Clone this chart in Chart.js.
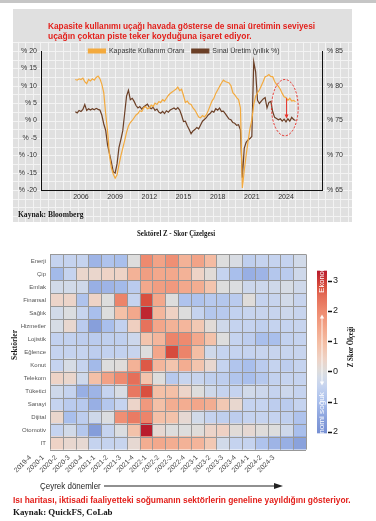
<!DOCTYPE html>
<html lang="tr"><head><meta charset="utf-8">
<title>Kapasite kullanımı ve sınai üretim</title>
<script src="https://cdn.jsdelivr.net/npm/chart.js"></script>
<style>
html,body{margin:0;padding:0;background:#fff}
body{width:376px;height:521px;position:relative;overflow:hidden}
#topband{position:absolute;left:0;top:0;width:376px;height:3px;background:#c6c6c6}
canvas{position:absolute;display:block}
#c1{left:13px;top:9px}
#c2{left:0;top:222px}
.t{position:absolute;white-space:nowrap;line-height:1;left:0;top:0}
.sans{font-family:var(--sans)}
.serif{font-family:"Liberation Serif","DejaVu Serif",serif;font-weight:bold;color:#151515}
.red{color:#e3201b;font-weight:bold}
#arrowSvg{position:absolute;left:0;top:0}
</style></head>
<body>
<div id="topband"></div>
<canvas id="c1" width="339" height="213"></canvas>
<canvas id="c2" width="376" height="260"></canvas>
<svg id="arrowSvg" width="376" height="521">
  <line x1="104" y1="486" x2="276" y2="486" stroke="#222" stroke-width="1.2"/>
  <polygon points="274,483 283,486 274,489" fill="#222"/>
</svg>
<div class="t sans red" data-x="48" data-cy="26" data-w="267" style="font-size:9px">Kapasite kullanımı uçağı havada gösterse de sınai üretimin seviyesi</div>
<div class="t sans red" data-x="48" data-cy="36" data-w="204" style="font-size:9px">uçağın çoktan piste teker koyduğuna işaret ediyor.</div>
<div class="t serif" data-x="18" data-cy="215" data-w="66" style="font-size:8px">Kaynak: Bloomberg</div>
<div class="t serif" data-x="137" data-cy="233.5" data-w="78" style="font-size:7.5px">Sektörel Z - Skor Çizelgesi</div>
<div class="t serif" data-rot="1" data-cx="15" data-cy="345" data-w="30" style="font-size:7.5px">Sektörler</div>
<div class="t serif" data-rot="1" data-cx="351" data-cy="347" data-w="40" style="font-size:7.5px">Z Skor Ölçeği</div>
<div class="t sans" data-rot="1" data-cx="321.5" data-cy="267.5" data-w="49" style="font-size:6.5px;color:#fff">Ekonomi sıcak</div>
<div class="t sans" data-rot="1" data-cx="321.5" data-cy="419.5" data-w="55" style="font-size:6.5px;color:#fff">Ekonomi soğuk</div>
<div class="t sans" data-x="40" data-cy="486" data-w="61" style="font-size:8.5px;color:#222">Çeyrek dönemler</div>
<div class="t sans red" data-x="13" data-cy="500" data-w="338" style="font-size:9px">Isı haritası, iktisadi faaliyetteki soğumanın sektörlerin geneline yayıldığını gösteriyor.</div>
<div class="t serif" data-x="13" data-cy="513" data-w="100" style="font-size:8px">Kaynak: QuickFS, CoLab</div>
<script>
// ---------------- DATA: line chart ----------------
const lineStartYear = 2005.5;
const lineStep = 1 / 6;
const capacityUse = [
  80.9,80.8,81.0,80.9,81.1,80.6,80.3,80.9,80.7,81.0,
  80.8,81.2,81.4,81.0,80.2,79.0,76.0,73.5,70.0,68.2,
  67.3,66.7,67.2,68.6,69.9,71.0,72.1,73.3,74.2,74.7,
  75.0,75.4,75.8,76.0,76.4,76.3,76.8,77.0,76.7,76.8,
  77.2,77.0,77.5,77.3,77.7,77.6,78.0,77.8,78.2,78.6,
  78.9,79.1,79.3,79.5,79.8,79.3,79.5,78.6,77.6,77.8,
  77.4,77.3,76.8,76.5,76.0,75.5,75.4,75.7,75.5,75.8,
  76.4,77.1,77.8,78.2,78.9,79.4,79.9,80.4,80.8,80.6,
  80.5,80.4,80.0,79.0,78.7,78.3,78.0,76.8,65.3,67.8,
  70.0,72.0,73.8,75.1,77.3,78.5,79.0,79.4,80.0,80.6,
  81.3,81.4,81.6,81.3,81.3,80.6,80.2,79.9,79.5,78.9,
  78.4,78.3,77.9,78.2,77.8,77.9,77.7
];
const industrialProd = [
  2.5,2.2,2.9,2.6,3.2,4.6,2.9,3.4,3.0,3.4,
  3.1,3.5,3.2,3.0,1.5,-1.0,-2.8,-7.0,-9.5,-12.0,
  -14.8,-15.1,-12.5,-7.8,-5.5,-3.0,2.0,7.0,8.7,6.0,
  6.4,5.5,4.3,3.6,4.0,3.3,3.9,4.3,4.7,3.8,
  3.4,3.8,2.9,3.3,2.4,2.1,2.6,2.0,2.8,2.4,
  3.0,3.3,3.6,3.2,3.7,3.0,1.5,-0.3,-0.2,-1.5,
  -2.6,-3.8,-3.0,-2.6,-2.0,-2.4,-1.3,-0.2,0.3,0.8,
  1.6,2.0,2.7,2.4,3.4,3.0,3.6,2.6,2.7,2.0,
  1.2,0.4,0.2,-0.6,-0.8,-1.4,-1.2,-2.7,-16.5,-8.0,
  -6.3,-5.6,-5.2,-4.6,16.9,14.0,5.8,4.9,5.6,6.2,
  6.6,3.6,5.2,5.5,2.5,0.9,0.6,0.2,0.5,-0.2,
  0.4,-0.4,0.5,-0.2,0.9,0.3,0.0
];
const yearTicks = [2006, 2009, 2012, 2015, 2018, 2021, 2024];
const indTicks = [-20, -15, -10, -5, 0, 5, 10, 15, 20];
const capTicks = [65, 70, 75, 80, 85];
// annotation (data units)
const ellipseCenterYear = 2023.9, ellipseHalfYears = 1.17;
const ellipseCenterPct = 3.7, ellipseHalfPct = 8.1;
const arrowYear = 2024.05, arrowFromCap = 78.2, arrowToInd = 0.6;

// ---------------- DATA: heatmap ----------------
const quarters = ['2019-4','2020-1','2020-2','2020-3','2020-4','2021-1','2021-2','2021-3','2021-4','2022-1',
                  '2022-2','2022-3','2022-4','2023-1','2023-2','2023-3','2023-4','2024-1','2024-2','2024-3'];
const sectors = ['Enerji','Çip','Emlak','Finansal','Sağlık','Hizmetler','Lojistik','Eğlence','Konut','Telekom',
                 'Tüketici','Sanayi','Dijital','Otomotiv','IT'];
const zEnerji    = [-0.5,-0.5,-0.5,-1.2,-0.9,-1.0,0.0,2.0,1.5,1.9,1.2,1.5,1.0,0.0,-0.1,-0.6,-0.5,-0.5,-0.5,-0.25];
const zCip       = [-1.1,-0.5,0.3,0.3,0.4,0.4,1.2,1.6,1.4,1.4,1.2,0.4,0.1,-0.5,-1.0,-1.3,-1.2,-0.8,-0.7,-0.3];
const zEmlak     = [-0.25,-0.25,-0.3,-1.3,-1.2,-1.1,-0.7,1.4,1.6,1.7,1.4,1.3,0.8,0.0,-0.05,-0.35,-0.35,-0.3,-0.15,-0.3];
const zFinansal  = [0.35,0.35,-0.9,0.4,0.0,2.1,-0.5,2.8,1.4,0.0,-0.9,-0.9,-0.75,-0.8,-0.7,0.05,-0.5,-0.45,-0.25,-0.45];
const zSaglik    = [-0.25,-0.05,-0.45,-1.0,0.0,0.9,1.4,3.2,1.1,0.45,0.0,-0.5,-0.8,-0.75,-0.55,-0.45,-0.45,-0.45,-0.35,-0.45];
const zHizmetler = [-0.15,0.25,-0.7,-1.6,-1.0,-0.55,0.5,2.4,1.45,1.2,1.1,0.7,0.1,-0.3,-0.5,-0.5,-0.6,-0.5,-0.5,-0.45];
const zLojistik  = [-0.55,-0.55,-0.65,-0.7,-0.6,-0.6,-0.35,0.8,1.1,2.1,2.0,1.4,0.85,0.0,-0.5,-0.65,-1.0,-1.0,-0.55,-0.5];
const zEglence   = [-0.5,-0.5,-0.5,-0.65,-0.55,-0.55,-0.45,0.0,1.45,2.85,2.1,0.95,-0.3,-0.5,-0.5,-0.5,-0.45,-0.45,-0.45,-0.45];
const zKonut     = [-0.5,-0.15,-0.5,-1.1,0.0,0.05,1.2,2.7,1.1,0.8,1.3,0.8,0.25,-0.5,-0.85,-1.0,-0.7,-0.5,-0.65,-0.5];
const zTelekom   = [0.4,0.3,-0.3,0.9,1.55,2.0,2.45,0.8,0.0,-0.75,-0.45,-0.45,-0.6,-0.65,-0.85,-1.0,-0.8,-0.55,-0.5,-0.5];
const zTuketici  = [-0.3,-0.5,-1.3,-1.2,-0.5,-0.1,2.3,2.8,0.9,0.9,0.35,0.0,-0.3,-0.5,-0.5,-0.25,-0.35,-0.5,-0.35,-0.5];
const zSanayi    = [-0.5,-0.7,-0.75,-1.3,-0.8,-0.5,0.35,1.7,0.9,1.3,1.3,1.45,1.3,0.7,0.25,-0.5,-0.5,-0.65,-0.7,-0.5];
const zDijital   = [0.3,-1.0,-0.65,-0.3,-0.05,1.9,2.25,2.1,0.9,0.85,0.2,-0.25,-0.5,-0.6,-0.65,-0.5,-0.5,-0.5,-0.6,-0.9];
const zOtomotiv  = [-0.5,-0.25,-0.8,-1.65,-0.5,-0.05,0.85,3.3,0.2,0.0,0.0,0.05,0.35,0.45,0.1,0.2,0.05,0.0,-0.3,-1.0];
const zIT        = [0.4,0.25,0.2,-0.5,-0.5,-0.45,0.2,1.3,1.4,1.3,1.2,1.15,0.7,-0.25,-0.5,-0.5,-0.9,-1.2,-1.3,-1.55];
const zRows = [zEnerji,zCip,zEmlak,zFinansal,zSaglik,zHizmetler,zLojistik,zEglence,zKonut,zTelekom,zTuketici,zSanayi,zDijital,zOtomotiv,zIT];
const zTicks = [3, 2, 1, 0, -1, -2];
const zMin = -2.05, zMax = 3.33;
const barArrowTop = 1.88, barArrowBottom = -0.47;

// ---------------- styling helpers ----------------
const cmapStops = [
  [-2.0,[120,145,212]],[-1.6,[135,159,219]],[-1.0,[169,191,236]],[-0.5,[197,211,239]],[-0.2,[211,219,232]],
  [0,[221,221,221]],[0.4,[238,211,198]],[0.9,[244,192,167]],[1.4,[243,168,140]],[2.0,[238,138,111]],
  [2.5,[228,108,87]],[2.8,[217,80,63]],[3.3,[185,28,44]]
];
function zColor(v){
  const s = cmapStops;
  let c;
  if (v <= s[0][0]) c = s[0][1];
  else if (v >= s[s.length-1][0]) c = s[s.length-1][1];
  else {
    for (let i = 1; i < s.length; i++) {
      if (v <= s[i][0]) {
        const t = (v - s[i-1][0]) / (s[i][0] - s[i-1][0]);
        c = s[i-1][1].map((a, k) => a + (s[i][1][k] - a) * t);
        break;
      }
    }
  }
  return 'rgb(' + c.map(Math.round).join(',') + ')';
}
function hasFont(name){
  const c = document.createElement('canvas').getContext('2d');
  const s = 'abcdefghijklmnopqrstuvwxyzABCDEF0123456789';
  c.font = '40px monospace'; const a = c.measureText(s).width;
  c.font = '40px "' + name + '", monospace'; const b = c.measureText(s).width;
  return Math.abs(a - b) > 1;
}
const NARROW = hasFont('Liberation Sans Narrow');
const SANS = NARROW ? '"Liberation Sans Narrow", "Liberation Sans", Arial, sans-serif' : '"Liberation Sans", Arial, sans-serif';
const K = NARROW ? 1.2 : 1;
document.documentElement.style.setProperty('--sans', SANS);

// ---------------- top chart ----------------
const PLOT_TOP = 42; // canvas px where the % 20 / % 85 line sits
const bgGrid = {
  id: 'bgGrid',
  beforeDraw(chart){
    const {ctx, width, height, chartArea: a} = chart;
    const yS = chart.scales.yInd;
    ctx.save();
    ctx.fillStyle = '#e0e0e0';
    ctx.fillRect(0, 0, width, height);
    const step = yS.getPixelForValue(0) - yS.getPixelForValue(2.5);
    const gTop = a.top - step - 0.5;
    ctx.strokeStyle = '#f3f3f3';
    ctx.lineWidth = 1;
    ctx.beginPath();
    for (let v = -40; v <= 40; v += 2.5) {
      const y = Math.round(yS.getPixelForValue(v)) + 0.5;
      if (y < gTop || y > height) continue;
      ctx.moveTo(0, y); ctx.lineTo(width, y);
    }
    const x0 = a.left - 1;
    for (let x = x0 - 7.5 * Math.floor(x0 / 7.5); x < width; x += 7.5) {
      const px = Math.round(x) + 0.5;
      ctx.moveTo(px, gTop); ctx.lineTo(px, height);
    }
    ctx.stroke();
    ctx.restore();
  }
};
const LEG_PAD = 7, LEG_FS = 7 * K;
const legendShift = {
  id: 'legendShift',
  afterLayout(chart){
    const lg = chart.legend;
    if (!lg) return;
    const d = chart.chartArea.top - (lg.top + LEG_PAD + LEG_FS / 2);
    lg.top += d; lg.bottom += d;
    lg.left += 1.5; lg.right += 1.5;
  }
};
const annot = {
  id: 'annot',
  afterDatasetsDraw(chart){
    const {ctx, scales: {x, yInd, yCap}} = chart;
    const cx = x.getPixelForValue(ellipseCenterYear);
    const cy = yInd.getPixelForValue(ellipseCenterPct);
    const rx = x.getPixelForValue(ellipseCenterYear + ellipseHalfYears) - cx;
    const ry = cy - yInd.getPixelForValue(ellipseCenterPct + ellipseHalfPct);
    ctx.save();
    ctx.strokeStyle = '#e8322b'; ctx.fillStyle = '#e8322b';
    ctx.lineWidth = 1;
    ctx.setLineDash([2.2, 1.6]);
    ctx.beginPath(); ctx.ellipse(cx, cy, rx, ry, 0, 0, Math.PI * 2); ctx.stroke();
    ctx.setLineDash([]);
    const ax = x.getPixelForValue(arrowYear);
    const ay1 = yCap.getPixelForValue(arrowFromCap);
    const ay2 = yInd.getPixelForValue(arrowToInd);
    ctx.beginPath(); ctx.moveTo(ax, ay1); ctx.lineTo(ax, ay2 - 3); ctx.stroke();
    ctx.beginPath(); ctx.moveTo(ax - 2, ay2 - 4); ctx.lineTo(ax + 2, ay2 - 4); ctx.lineTo(ax, ay2); ctx.closePath(); ctx.fill();
    ctx.restore();
  }
};
const tickFont = {family: SANS, size: 7 * K};
const lineChart = new Chart(document.getElementById('c1'), {
  type: 'line',
  data: {
    datasets: [
      {
        label: 'Kapasite Kullanım Oranı',
        data: capacityUse.map((v, i) => ({x: lineStartYear + i * lineStep, y: v})),
        yAxisID: 'yCap', borderColor: '#f3aa3e', backgroundColor: '#f3aa3e',
        borderWidth: 1.2, pointRadius: 0, tension: 0
      },
      {
        label: 'Sınai Üretim (yıllık %)',
        data: industrialProd.map((v, i) => ({x: lineStartYear + i * lineStep, y: v})),
        yAxisID: 'yInd', borderColor: '#6b3f26', backgroundColor: '#6b3f26',
        borderWidth: 1.2, pointRadius: 0, tension: 0
      }
    ]
  },
  options: {
    responsive: false, animation: false, events: [], devicePixelRatio: 1,
    layout: {padding: {top: 21, left: 0, right: 0, bottom: 0}},
    plugins: {
      legend: {
        position: 'top', align: 'center',
        labels: {boxWidth: 17, boxHeight: 4, padding: LEG_PAD, color: '#333', font: {family: SANS, size: LEG_FS}}
      },
      tooltip: {enabled: false}
    },
    scales: {
      x: {
        type: 'linear', min: 2002.49, max: 2027.16,
        grid: {display: false, drawTicks: false},
        border: {display: true, color: '#111', width: 1},
        afterBuildTicks: s => { s.ticks = yearTicks.map(v => ({value: v})); },
        afterFit: s => { s.height = 32; },
        ticks: {padding: 3, color: '#333', font: tickFont, autoSkip: false, maxRotation: 0, callback: v => String(v)}
      },
      yInd: {
        type: 'linear', position: 'left', min: -20, max: 20,
        grid: {display: false, drawTicks: false},
        border: {display: true, color: '#111', width: 1},
        afterBuildTicks: s => { s.ticks = indTicks.map(v => ({value: v})); },
        afterFit: s => { s.width = 28; },
        ticks: {padding: 4, color: '#333', font: tickFont, callback: v => '% ' + v}
      },
      yCap: {
        type: 'linear', position: 'right', min: 65, max: 85,
        grid: {display: false, drawTicks: false},
        border: {display: true, color: '#111', width: 1},
        afterBuildTicks: s => { s.ticks = capTicks.map(v => ({value: v})); },
        afterFit: s => { s.width = 30; },
        ticks: {padding: 5, color: '#333', font: tickFont, callback: v => '% ' + v}
      }
    }
  },
  plugins: [bgGrid, legendShift, annot]
});
// pin the plot top so that the left/right axis ranges sit where the reference puts them
const padFix = PLOT_TOP - lineChart.chartArea.top;
if (Math.abs(padFix) > 0.01) {
  lineChart.options.layout.padding.top += padFix;
  lineChart.update();
}

// ---------------- heatmap ----------------
const heatDecor = {
  id: 'heatDecor',
  afterDatasetsDraw(chart){
    const {ctx, chartArea: a, scales: {x, y}} = chart;
    ctx.save();
    ctx.strokeStyle = '#989898'; ctx.lineWidth = 1;
    ctx.beginPath();
    for (let q = 0; q <= quarters.length; q++) {
      const px = Math.round(x.getPixelForValue(q)) + 0.5;
      ctx.moveTo(px, a.top); ctx.lineTo(px, a.bottom);
    }
    for (let s = 0; s <= sectors.length; s++) {
      const py = Math.round(y.getPixelForValue(s - 0.5)) + 0.5;
      ctx.moveTo(a.left, py); ctx.lineTo(a.right, py);
    }
    ctx.stroke();
    ctx.restore();
  },
  afterDraw(chart){
    const {ctx, chartArea: a} = chart;
    const zs = chart.scales.yz;
    const top = zs.getPixelForValue(zs.max), bottom = zs.getPixelForValue(zs.min);
    const x0 = a.right + 11, w = 10;
    const g = ctx.createLinearGradient(0, top, 0, bottom);
    g.addColorStop(0, zColor(zs.max));
    g.addColorStop(1, zColor(zs.min));
    cmapStops.forEach(([v]) => {
      const p = (zs.getPixelForValue(v) - top) / (bottom - top);
      if (p > 0 && p < 1) g.addColorStop(p, zColor(v));
    });
    ctx.save();
    ctx.fillStyle = g;
    ctx.fillRect(x0, top, w, bottom - top);
    const cx = x0 + w / 2;
    const yA = zs.getPixelForValue(barArrowTop), yB = zs.getPixelForValue(barArrowBottom);
    ctx.strokeStyle = 'rgba(255,255,255,0.95)'; ctx.fillStyle = 'rgba(255,255,255,0.95)';
    ctx.lineWidth = 0.9;
    ctx.beginPath(); ctx.moveTo(cx, yA + 3); ctx.lineTo(cx, yB - 3); ctx.stroke();
    ctx.beginPath(); ctx.moveTo(cx, yA); ctx.lineTo(cx - 2.2, yA + 4); ctx.lineTo(cx + 2.2, yA + 4); ctx.closePath(); ctx.fill();
    ctx.beginPath(); ctx.moveTo(cx, yB); ctx.lineTo(cx - 2.2, yB - 4); ctx.lineTo(cx + 2.2, yB - 4); ctx.closePath(); ctx.fill();
    ctx.strokeStyle = '#111'; ctx.lineWidth = 1.6;
    ctx.beginPath();
    zs.ticks.forEach(t => {
      const py = Math.round(zs.getPixelForValue(t.value)) + 0.5;
      ctx.moveTo(a.right + 22, py); ctx.lineTo(a.right + 26, py);
    });
    ctx.stroke();
    ctx.restore();
  }
};
new Chart(document.getElementById('c2'), {
  type: 'bar',
  data: {
    labels: sectors,
    datasets: quarters.map((q, qi) => ({
      label: q,
      data: sectors.map(() => [qi, qi + 1]),
      backgroundColor: sectors.map((s, si) => zColor(zRows[si][qi])),
      borderWidth: 0,
      barPercentage: 1, categoryPercentage: 1, grouped: false,
      xAxisID: 'x', yAxisID: 'y'
    }))
  },
  options: {
    indexAxis: 'y',
    responsive: false, animation: false, events: [], devicePixelRatio: 1,
    layout: {padding: {top: 18, left: 0, right: 0, bottom: 0}},
    plugins: {legend: {display: false}, tooltip: {enabled: false}},
    scales: {
      x: {
        type: 'linear', position: 'bottom', min: 0, max: quarters.length,
        grid: {display: false, drawTicks: false}, border: {display: false},
        afterBuildTicks: s => { s.ticks = quarters.map((q, i) => ({value: i + 0.5})); },
        afterFit: s => { s.height = 31; },
        ticks: {autoSkip: false, minRotation: 45, maxRotation: 45, labelOffset: -26, padding: 4,
                color: '#444', font: {family: SANS, size: 6.8 * K}, callback: (v, i) => quarters[i]}
      },
      y: {
        type: 'category', position: 'left',
        grid: {display: false, drawTicks: false}, border: {display: false},
        afterFit: s => { s.width = 50; },
        ticks: {padding: 4, color: '#555', font: {family: SANS, size: 6 * K}, autoSkip: false}
      },
      yz: {
        type: 'linear', axis: 'y', position: 'right', min: zMin, max: zMax,
        grid: {display: false, drawTicks: false}, border: {display: false},
        afterBuildTicks: s => { s.ticks = zTicks.map(v => ({value: v})); },
        afterFit: s => { s.width = 70; },
        ticks: {padding: 27, color: '#222', font: {family: SANS, size: 9 * K}, callback: v => String(Math.abs(v))}
      }
    }
  },
  plugins: [heatDecor]
});

// ---------------- place free texts ----------------
document.querySelectorAll('.t').forEach(el => {
  const w = parseFloat(el.dataset.w);
  const s = w / el.offsetWidth;
  if (el.dataset.rot) {
    el.style.left = el.dataset.cx + 'px';
    el.style.top = el.dataset.cy + 'px';
    el.style.transformOrigin = '50% 50%';
    el.style.transform = 'translate(-50%,-50%) rotate(-90deg) scaleX(' + s + ')';
  } else {
    el.style.left = el.dataset.x + 'px';
    el.style.top = (parseFloat(el.dataset.cy) - el.offsetHeight / 2) + 'px';
    el.style.transformOrigin = '0 50%';
    el.style.transform = 'scaleX(' + s + ')';
  }
});
</script>
</body></html>
